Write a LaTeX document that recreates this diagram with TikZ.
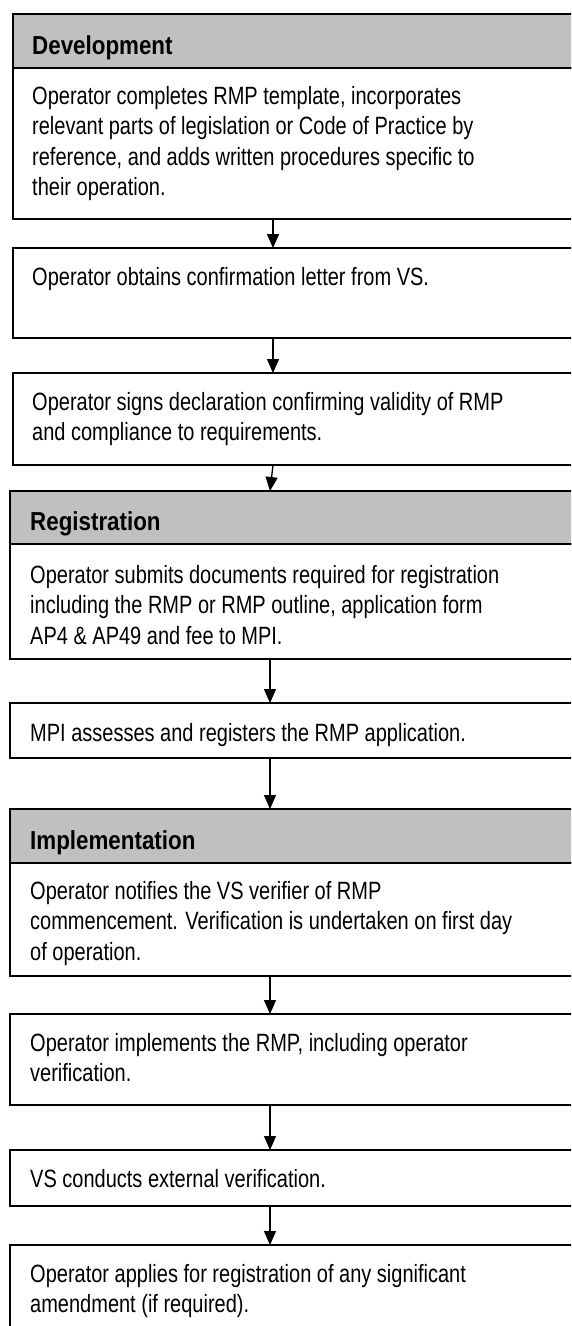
\documentclass[tikz,border=0pt]{standalone}
\usepackage{fontspec}
\setmainfont{Liberation Sans}
\newfontfamily\bodyfont[FakeStretch=0.8]{Liberation Sans}
\newfontfamily\hdfont[FakeStretch=0.86]{Liberation Sans}
\usetikzlibrary{arrows.meta}
\definecolor{hdrgray}{RGB}{192,192,192}
\newcommand{\txtlines}[1]{\parbox[t]{540pt}{\raggedright #1}}
\begin{document}
\begin{tikzpicture}[x=1pt,y=-1pt,
  box/.style={draw=black, line width=1.4pt, fill=white, anchor=north west, minimum width=573pt, inner sep=0pt, outer sep=0pt},
  hdr/.style={box, fill=hdrgray},
  body/.style={anchor=base west, inner sep=0pt, font=\bodyfont\fontsize{25}{30.5}\selectfont},
  head/.style={anchor=base west, inner sep=0pt, font=\hdfont\bfseries\fontsize{26}{30}\selectfont},
  arr/.style={line width=1.3pt, -{Triangle[length=14pt,width=12pt]}},
  sep/.style={line width=2.6pt}]
\useasboundingbox (0,0) rectangle (571,1326);
\clip (0,0) rectangle (571,1326);
\coordinate (c1) at (273,0);
\coordinate (c2) at (270,0);
% Development
\node[hdr, minimum height=54pt] (h1) at (13,14) {};
\node[box, minimum height=151pt] (b1) at (13,68) {};
\draw[sep] (h1.south west) -- (h1.south east);
\node[box, minimum height=90pt] (b2) at (13,248) {};
\node[box, minimum height=92pt] (b3) at (13,373) {};
% Registration
\node[hdr, minimum height=53pt] (h2) at (10,491) {};
\node[box, minimum height=115pt] (b4) at (10,544) {};
\draw[sep] (h2.south west) -- (h2.south east);
\node[box, minimum height=55pt] (b5) at (10,703) {};
% Implementation
\node[hdr, minimum height=54pt] (h3) at (10,809) {};
\node[box, minimum height=113pt] (b6) at (10,863) {};
\draw[sep] (h3.south west) -- (h3.south east);
\node[box, minimum height=91pt] (b7) at (10,1014) {};
\node[box, minimum height=56pt] (b8) at (10,1150) {};
\node[box, minimum height=110pt] (b9) at (10,1245) {};
% texts
\node[head] (th1) at (32,54) {Development};
\node[body] (t1) at (32,104) {\txtlines{Operator completes RMP template, incorporates\\relevant parts of legislation or Code of Practice by\\reference, and adds written procedures specific to\\their operation.}};
\node[body] (t2) at (32,285) {Operator obtains confirmation letter from VS.};
\node[body] (t3) at (32,410) {\txtlines{Operator signs declaration confirming validity of RMP\\and compliance to requirements.}};
\node[head] (th2) at (30,530) {Registration};
\node[body] (t4) at (30,583) {\txtlines{Operator submits documents required for registration\\including the RMP or RMP outline, application form\\AP4 \& AP49 and fee to MPI.}};
\node[body] (t5) at (30,741) {MPI assesses and registers the RMP application.};
\node[head] (th3) at (30,849) {Implementation};
\node[body] (t6) at (30,899) {\txtlines{Operator notifies the VS verifier of RMP\\commencement. Verification is undertaken on first day\\of operation.}};
\node[body] (t7) at (30,1051) {\txtlines{Operator implements the RMP, including operator\\verification.}};
\node[body] (t8) at (30,1187) {VS conducts external verification.};
\node[body] (t9) at (30,1282) {\txtlines{Operator applies for registration of any significant\\amendment (if required).}};
% arrows
\draw[arr] (b1.south -| c1) -- (b2.north -| c1);
\draw[arr] (b2.south -| c1) -- (b3.north -| c1);
\draw[arr] (b3.south -| c1) -- (h2.north -| c2);
\draw[arr] (b4.south -| c2) -- (b5.north -| c2);
\draw[arr] (b5.south -| c2) -- (h3.north -| c2);
\draw[arr] (b6.south -| c2) -- (b7.north -| c2);
\draw[arr] (b7.south -| c2) -- (b8.north -| c2);
\draw[arr] (b8.south -| c2) -- (b9.north -| c2);
\end{tikzpicture}
\end{document}
